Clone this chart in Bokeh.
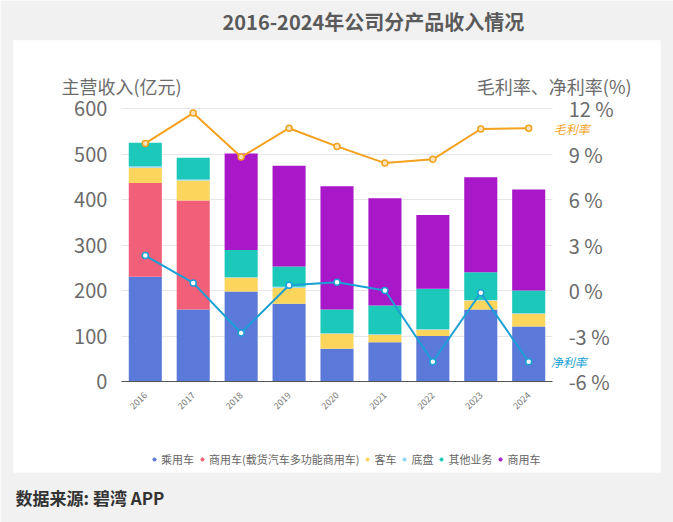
import math
from bokeh.plotting import figure
from bokeh.models import (FactorRange, Range1d, LinearAxis, FixedTicker, PrintfTickFormatter,
                          Label, Legend, LegendItem, ColumnDataSource, Title)
from bokeh.embed import file_html
from bokeh.resources import INLINE

# ---------------- data ----------------
years = ["2016", "2017", "2018", "2019", "2020", "2021", "2022", "2023", "2024"]
passenger = [230, 158, 198, 171, 72, 86, 100, 158, 121]          # 乘用车
truck_mpv = [206, 240, 0, 0, 0, 0, 0, 0, 0]                       # 商用车(载货汽车多功能商用车)
bus = [34, 44, 30, 35, 33, 17, 14, 20, 28]                        # 客车
chassis = [3, 2, 1, 2, 1, 1, 1, 1, 1]                             # 底盘
other = [52, 48, 60, 45, 52, 63, 89, 61, 50]                      # 其他业务
commercial = [0, 0, 212, 221, 271, 236, 162, 209, 222]            # 商用车
gross_margin = [9.7, 11.7, 8.8, 10.7, 9.5, 8.4, 8.65, 10.65, 10.7]
net_margin = [2.3, 0.5, -2.8, 0.35, 0.55, 0.0, -4.7, -0.15, -4.7]

series_names = ["乘用车", "商用车(载货汽车多功能商用车)", "客车", "底盘", "其他业务", "商用车"]
left_ticks = [0, 100, 200, 300, 400, 500, 600]
right_ticks = [-6, -3, 0, 3, 6, 9, 12]

# ---------------- style / geometry ----------------
colors = ["#5a79d8", "#f25f79", "#fbd55c", "#8fd3f5", "#1bc8b9", "#a817c8"]
c_gross = "#f4a11d"
c_net = "#1a9fd6"
FONT = "Noto Sans CJK SC"

W, H = 673, 522
PL, PR, PT, PB = 13, 660, 40, 472          # white panel = plot frame
AL, AR, AT, AB = 121, 553, 108, 381        # plotting area inside it
n = len(years)
unit = (AR - AL) / n                       # px per category
pad = (AL - PL) / unit                     # categories of padding each side
ppu = (AB - AT) / 600.0                    # px per left-axis unit
ppp = (AB - AT) / 18.0                     # px per percent
y_top = (AB - PT) / ppu
y_bot = -(PB - AB) / ppu
p_top = 12 + (AT - PT) / ppp
p_bot = -6 - (PB - AB) / ppp

keys = ["passenger", "truck_mpv", "bus", "chassis", "other", "commercial"]
src = ColumnDataSource(dict(year=years, passenger=passenger, truck_mpv=truck_mpv, bus=bus,
                            chassis=chassis, other=other, commercial=commercial))

p = figure(width=W, height=H, output_backend="svg", toolbar_location=None,
           x_range=FactorRange(*years, range_padding=pad, range_padding_units="absolute"),
           y_range=Range1d(y_bot, y_top),
           min_border_left=PL, min_border_right=W - PR, min_border_top=PT, min_border_bottom=H - PB)
p.extra_y_ranges = {"pct": Range1d(p_bot, p_top)}
p.border_fill_color = "#f1f1f1"
p.background_fill_color = "white"
p.outline_line_color = None

p.title.text = "2016-2024年公司分产品收入情况"
p.title.align = "left"
p.title.offset = 222 - PL
p.title.text_font = FONT
p.title.text_font_size = "20px"
p.title.text_font_style = "bold"
p.title.text_color = "#5a5a5a"
p.title.standoff = 9


def cx(X):
    return (X - PL) / unit - pad


def cy(Y):
    return (AB - Y) / ppu


bars = p.vbar_stack(keys, x="year", width=0.69, color=colors, source=src, line_width=0)

p.line(years, gross_margin, y_range_name="pct", color=c_gross, line_width=2)
p.scatter(years, gross_margin, y_range_name="pct", marker="circle", size=6,
          fill_color="#fde3b8", line_color=c_gross, line_width=1.5)
p.line(years, net_margin, y_range_name="pct", color=c_net, line_width=2)
p.scatter(years, net_margin, y_range_name="pct", marker="circle", size=6,
          fill_color="white", line_color=c_net, line_width=1.5)

# axes (fixed inside the white panel)
ya = p.yaxis[0]
ya.fixed_location = 0
ya.ticker = FixedTicker(ticks=left_ticks)
ya.axis_line_color = None
ya.major_tick_line_color = None
ya.minor_tick_line_color = None
ya.major_label_text_font_size = "20px"
ya.major_label_text_color = "#6b6b6b"
ya.major_label_text_font = FONT
ya.major_label_standoff = 8

ra = LinearAxis(y_range_name="pct", ticker=FixedTicker(ticks=right_ticks),
                formatter=PrintfTickFormatter(format="%d %%"), fixed_location=n)
ra.axis_line_color = None
ra.major_tick_line_color = None
ra.minor_tick_line_color = None
ra.major_label_text_font_size = "20px"
ra.major_label_text_color = "#6b6b6b"
ra.major_label_text_font = FONT
ra.major_label_standoff = 10
p.add_layout(ra, "right")

xa = p.xaxis[0]
xa.fixed_location = 0
xa.bounds = (0, n)
xa.axis_line_color = "#555555"
xa.major_tick_line_color = None
xa.minor_tick_line_color = None
xa.major_label_orientation = math.pi / 4
xa.major_label_text_font_size = "9px"
xa.major_label_text_color = "#777777"
xa.major_label_text_font = FONT
xa.major_label_standoff = 6

p.xgrid.grid_line_color = None
yg = p.ygrid[0]
yg.ticker = FixedTicker(ticks=left_ticks)
yg.grid_line_color = "#e6e6e6"
if "cross_bounds" in yg.properties():
    yg.cross_bounds = (0, n)

# legend with dot glyphs (hidden helper renderers carrying each series)
series_vals = [passenger, truck_mpv, bus, chassis, other, commercial]
dots = [p.scatter(years, v, marker="circle", size=7, color=c, visible=False)
        for v, c in zip(series_vals, colors)]
legend = Legend(items=[LegendItem(label=nm, renderers=[d]) for nm, d in zip(series_names, dots)],
                orientation="horizontal", location=(137, 5),
                glyph_width=8, glyph_height=8, label_standoff=3, spacing=4,
                padding=0, margin=0, border_line_color=None, background_fill_alpha=0,
                inactive_fill_alpha=0,
                label_text_font_size="11px", label_text_color="#666666", label_text_font=FONT)
p.add_layout(legend, "center")

# texts
def add_label(text, X, Y, size, color, style="normal", align="left"):
    p.add_layout(Label(x=cx(X), y=cy(Y), text=text, text_font=FONT, text_font_size=size,
                       text_color=color, text_font_style=style, text_align=align,
                       text_baseline="middle"))

add_label("主营收入(亿元)", 61, 85, "18px", "#6b6b6b")
add_label("毛利率、净利率(%)", 632, 85, "18px", "#6b6b6b", align="right")

p.add_layout(Label(x=n, y=gross_margin[-1], y_range_name="pct", text="毛利率",
                   text_font=FONT, text_font_size="12px", text_color=c_gross,
                   text_font_style="italic", text_baseline="middle", x_offset=1))
p.add_layout(Label(x=n, y=net_margin[-1], y_range_name="pct", text="净利率",
                   text_font=FONT, text_font_size="12px", text_color=c_net,
                   text_font_style="italic", text_baseline="middle", x_offset=-2))

src_title = Title(text="数据来源: 碧湾 APP", align="left", offset=2, text_font=FONT,
                  text_font_size="17px", text_font_style="bold", text_color="#333333", standoff=21)
p.add_layout(src_title, "below")

open("out.html", "w").write(file_html(p, INLINE))
